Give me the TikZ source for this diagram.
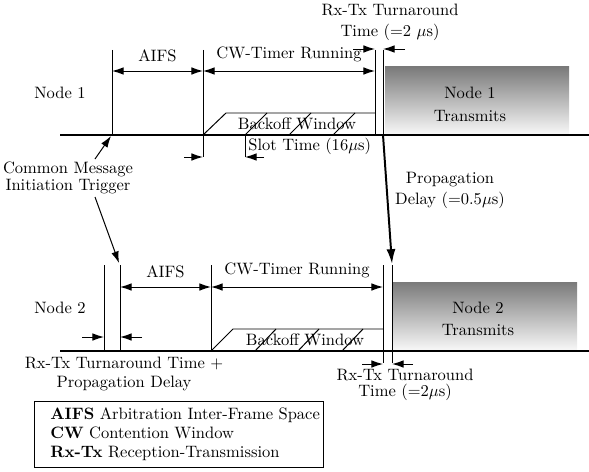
\documentclass[tikz,border=0pt]{standalone}
\usepackage{amsmath, amssymb}
\usepackage{color, xcolor}
\usepackage{tikz}
\usetikzlibrary{
    arrows.meta
}

\tikzset{
    tip/.style={-{Latex[length=7pt,width=4.6pt]}},
    dim/.style={{Latex[length=7pt,width=4.6pt]}-{Latex[length=7pt,width=4.6pt]}},
    bar/.style={line width=0.6pt},
    timeline/.style={line width=1.4pt},
    txbox/.style={top color=black!52, bottom color=black!3},
    lbl/.style={align=center, inner sep=0pt},
}

\begin{document}
\begin{tikzpicture}[x=0.606pt, y=-0.606pt]
            \useasboundingbox (0,0) rectangle (589,471);

            % Node 1
            \node[lbl] (lab1) at (60,93) {Node 1};
            \fill[txbox] (385,67) rectangle (569,134);
            \node[lbl, font=\fontsize{10}{14}\selectfont] (tx1) at (470,104) {Node 1\\Transmits};
            \draw[timeline] (60,135) -- (589,135);
            \draw[bar] (112,50) -- (112,135);
            \draw[bar] (203,50) -- (203,157);
            \draw[bar] (375,50) -- (375,135);
            \draw[bar] (383,50) -- (383,135);
            \draw[bar, dim] (112,71) -- node[above=2pt] (aifs1) {AIFS} (203,71);
            \draw[bar, dim] (203,71) -- node[above=2pt] (cw1) {CW-Timer Running} (375,71);

            % Backoff window 1
            \draw[bar] (203,135) -- (226,113) -- (375,113);
            \foreach \s in {245,289,333}
                \draw[bar] (\s,135) -- (\s+22,113);
            \node[lbl] (bw1) at (297,124) {Backoff Window};

            % Slot time
            \draw[bar] (245,135) -- (245,157);
            \draw[bar, tip] (264,157) -- (245,157);
            \draw[bar, tip] (184,157) -- (203,157);
            \node[lbl, anchor=west] (slot) at (248,146) {Slot Time (16$\mu$s)};

            % Turnaround 1
            \draw[bar, tip] (353,49) -- (375,49);
            \draw[bar, tip] (405,49) -- (383,49);
            \node[lbl, font=\fontsize{10}{12.7}\selectfont] (rt1) at (390,22) {Rx-Tx Turnaround\\Time (=2 $\mu$s)};

            % Propagation
            \draw[line width=1.2pt, -{Latex[length=9pt,width=5.5pt]}] (383,135) -- (392,264);
            \node[lbl, font=\fontsize{10}{12.7}\selectfont] (prop) at (450,190) {Propagation\\Delay (=0.5$\mu$s)};

            % Trigger
            \node[lbl, font=\fontsize{10}{10.3}\selectfont] (trig) at (68,178) {Common Message\\Initiation Trigger};
            \draw[bar, tip] (95,159) -- (111,136);
            \draw[bar, tip] (95,197) -- (119,263);

            % Node 2
            \node[lbl] (lab2) at (60,308) {Node 2};
            \fill[txbox] (393,282) rectangle (577,350);
            \node[lbl, font=\fontsize{10}{13.3}\selectfont] (tx2) at (478,319) {Node 2\\Transmits};
            \draw[timeline] (60,351) -- (589,351);
            \draw[bar] (104,265) -- (104,351);
            \draw[bar] (120,265) -- (120,351);
            \draw[bar] (211,265) -- (211,351);
            \draw[bar] (383,265) -- (383,363);
            \draw[bar] (392,265) -- (392,363);
            \draw[bar, dim] (120,287) -- node[above=2pt] (aifs2) {AIFS} (211,287);
            \draw[bar, dim] (211,287) -- node[above=2pt] (cw2) {CW-Timer Running} (383,287);

            % Backoff window 2
            \draw[bar] (211,351) -- (233,329) -- (383,329);
            \foreach \s in {255,298,342}
                \draw[bar] (\s,351) -- (\s+21,329);
            \node[lbl] (bw2) at (305,340) {Backoff Window};

            % Turnaround + delay
            \draw[bar, tip] (82,337) -- (104,337);
            \draw[bar, tip] (142,337) -- (120,337);
            \node[lbl, font=\fontsize{10}{12}\selectfont] (rtp) at (124,374) {Rx-Tx Turnaround Time +\\Propagation Delay};

            % Turnaround 2
            \draw[bar, tip] (362,364) -- (383,364);
            \draw[bar, tip] (413,364) -- (392,364);
            \node[lbl, font=\fontsize{10}{9.8}\selectfont] (rt2) at (405,385) {Rx-Tx Turnaround\\Time (=2$\mu$s)};

            % Legend
            \draw[bar] (34,401) rectangle (323,467);
            \node[lbl, align=left, anchor=west, font=\fontsize{10}{11.4}\selectfont] (keys) at (50,434)
                {\textbf{AIFS} Arbitration Inter-Frame Space\\
                 \textbf{CW} Contention Window\\
                 \textbf{Rx-Tx} Reception-Transmission};
        \end{tikzpicture}
\end{document}
